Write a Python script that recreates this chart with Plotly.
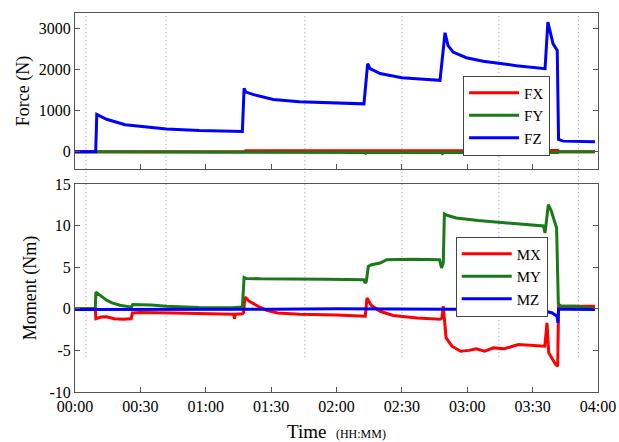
import plotly.graph_objects as go

# ---- data (time in minutes) ----
x_tick_vals = [0, 30, 60, 90, 120, 150, 180, 210, 240]
x_tick_text = ["00:00", "00:30", "01:00", "01:30", "02:00", "02:30", "03:00", "03:30", "04:00"]
force_tick_vals = [0, 1000, 2000, 3000]
force_tick_text = ["0", "1000", "2000", "3000"]
moment_tick_vals = [-10, -5, 0, 5, 10, 15]
moment_tick_text = ["-10", "-5", "0", "5", "10", "15"]
event_times = [5.0, 41.8, 105.5, 150.0, 194.5, 231.0]

fx_t = [0, 77.6, 78.2, 221.7, 222.0, 238.6]
fx_v = [0, 0, 25, 30, 0, 0]
fy_t = [0, 77.6, 78.2, 132.8, 133.4, 134.0, 168.0, 168.6, 169.2, 216.0, 216.6, 217.2, 221.7, 222.0, 238.6]
fy_v = [0, 0, -15, -15, -35, -15, -15, -40, -15, -15, -40, -15, -15, 0, 0]
fz_t = [0, 9.5, 10.0, 14.5, 23, 34, 42, 57, 76.8, 77.6, 78.5, 82, 91, 103, 118, 132.6,
        134.3, 135.4, 140, 150, 160, 167.5, 169.8, 171.2, 173.5, 179.6, 187.3, 194.9,
        202.6, 215.7, 217.0, 219.4, 221.3, 221.9, 224, 238.6]
fz_v = [0, 0, 910, 790, 660, 595, 556, 516, 495, 1540, 1450, 1390, 1270, 1215, 1185, 1165,
        2140, 2020, 1900, 1800, 1765, 1735, 2890, 2580, 2420, 2285, 2200, 2140,
        2090, 2020, 3150, 2620, 2460, 300, 260, 245]

mx_t = [0, 9.3, 9.6, 12, 14.5, 18, 22, 25.8, 26.3, 30, 45, 60, 72.8, 73.2, 73.6, 76.8, 77.3,
        78.0, 80, 84, 88, 93, 103, 120, 132.4, 133.2, 134.0, 136, 140, 146, 157, 167.5, 168.4,
        169.0, 170.3, 173, 177, 180.8, 184, 188, 192, 197, 203.5, 210, 215.6, 216.6, 217.4,
        219, 220.6, 221.5, 221.9, 225, 238.6]
mx_v = [0, 0, -1.2, -1.0, -0.95, -1.2, -1.25, -1.2, -0.5, -0.45, -0.5, -0.57, -0.65, -1.2, -0.65,
        -0.6, -0.5, 1.4, 0.9, 0.3, -0.2, -0.5, -0.65, -0.75, -0.92, -0.9, 1.3, 0.4, -0.3, -0.8,
        -1.1, -1.25, -1.1, 0.3, -3.5, -4.5, -5.1, -5.0, -4.8, -5.1, -4.7, -4.8, -4.3, -4.4, -4.5,
        -1.7, -5.3, -6.0, -6.7, -6.9, 0.3, 0.3, 0.3]
my_t = [0, 9.3, 9.6, 12, 14.5, 17, 20.6, 25.2, 26.0, 26.5, 35, 42, 57, 72, 76.8, 77.6, 78.5,
        85, 100, 115, 132.5, 133.1, 133.7, 134.6, 136, 140, 143, 155, 167.3, 168.2, 169.0,
        169.5, 171, 175, 185, 195, 205, 215.0, 215.7, 217.2, 218.5, 221.0, 221.8, 223, 230, 238.6]
my_v = [0, 0, 2.0, 1.5, 1.03, 0.7, 0.43, 0.23, 0.25, 0.5, 0.45, 0.31, 0.15, 0.12, 0.2, 3.75, 3.65,
        3.6, 3.6, 3.55, 3.5, 3.1, 3.3, 5.1, 5.3, 5.5, 5.9, 5.95, 5.9, 4.9, 5.5,
        11.4, 11.2, 10.9, 10.6, 10.4, 10.2, 9.95, 9.1, 12.5, 11.8, 9.7, 0.6, 0.3, 0.3, 0.0]
mz_t = [0, 30, 60, 90, 120, 150, 180, 205, 213, 216, 219, 221.2, 221.6, 221.9, 225, 238.6]
mz_v = [-0.1, -0.1, -0.05, -0.05, 0.0, -0.05, -0.05, -0.1, -0.2, -0.3, -0.5, -0.9, -1.7, -0.05, -0.05, -0.1]

RED, GREEN, BLUE = "#ff0000", "#1a7a1a", "#0000ff"
FONT = "Liberation Serif, Times New Roman, serif"
LW = 3

fig = go.Figure()
fig.add_trace(go.Scatter(x=fx_t, y=fx_v, name="FX", mode="lines", line=dict(color=RED, width=LW),
                         xaxis="x", yaxis="y", legend="legend"))
fig.add_trace(go.Scatter(x=fy_t, y=fy_v, name="FY", mode="lines", line=dict(color=GREEN, width=LW),
                         xaxis="x", yaxis="y", legend="legend"))
fig.add_trace(go.Scatter(x=fz_t, y=fz_v, name="FZ", mode="lines", line=dict(color=BLUE, width=LW),
                         xaxis="x", yaxis="y", legend="legend"))
fig.add_trace(go.Scatter(x=mx_t, y=mx_v, name="MX", mode="lines", line=dict(color=RED, width=LW),
                         xaxis="x2", yaxis="y2", legend="legend2"))
fig.add_trace(go.Scatter(x=my_t, y=my_v, name="MY", mode="lines", line=dict(color=GREEN, width=LW),
                         xaxis="x2", yaxis="y2", legend="legend2"))
fig.add_trace(go.Scatter(x=mz_t, y=mz_v, name="MZ", mode="lines", line=dict(color=BLUE, width=LW),
                         xaxis="x2", yaxis="y2", legend="legend2"))

for t in event_times:
    fig.add_shape(type="line", xref="x", yref="paper", x0=t, x1=t, y0=0.092, y1=1.0,
                  line=dict(color="#999999", width=1, dash="1px,3px"), layer="below")

axis_common = dict(showline=True, linecolor="#555555", linewidth=1, mirror=True, automargin=False,
                   ticks="inside", ticklen=5, tickcolor="#555555", showgrid=False, zeroline=False,
                   tickfont=dict(family=FONT, size=16, color="black"))

legend_common = dict(xanchor="left", yanchor="top", bgcolor="white",
                     bordercolor="#444444", borderwidth=1, font=dict(family=FONT, size=15),
                     tracegroupgap=0, itemwidth=50)

fig.update_layout(
    width=619, height=442,
    margin=dict(l=75, r=21, t=13, b=50, autoexpand=False),
    paper_bgcolor="white", plot_bgcolor="white",
    font=dict(family=FONT, color="black"),
    showlegend=True,
    xaxis=dict(domain=[0, 1], range=[0, 240], anchor="y", tickvals=x_tick_vals,
               showticklabels=False, **axis_common),
    yaxis=dict(domain=[0.588, 1.0], range=[-420, 3370], anchor="x", tickvals=force_tick_vals,
               ticktext=force_tick_text,
               title=dict(text="Force (N)", font=dict(family=FONT, size=18), standoff=4),
               **{**axis_common, "mirror": "ticks"}),
    xaxis2=dict(domain=[0, 1], range=[0, 240], anchor="y2", tickvals=x_tick_vals,
                ticktext=x_tick_text, **axis_common),
    yaxis2=dict(domain=[0.0, 0.549], range=[-10, 15], anchor="x2", tickvals=moment_tick_vals,
                ticktext=moment_tick_text,
                title=dict(text="Moment (Nm)", font=dict(family=FONT, size=18), standoff=8),
                **{**axis_common, "mirror": "ticks"}),
    legend=dict(x=0.742, y=0.835, **legend_common),
    legend2=dict(x=0.728, y=0.41, **legend_common),
)

fig.add_annotation(text="Time  <span style='font-size:12px'>(HH:MM)</span>", xref="paper", yref="paper",
                   x=0.5, y=-0.104, xanchor="center", yanchor="middle", showarrow=False,
                   font=dict(family=FONT, size=19, color="black"))

fig.write_html("out.html", config={"displayModeBar": False},
               post_script="document.body.style.margin='0';document.body.style.padding='0';")
